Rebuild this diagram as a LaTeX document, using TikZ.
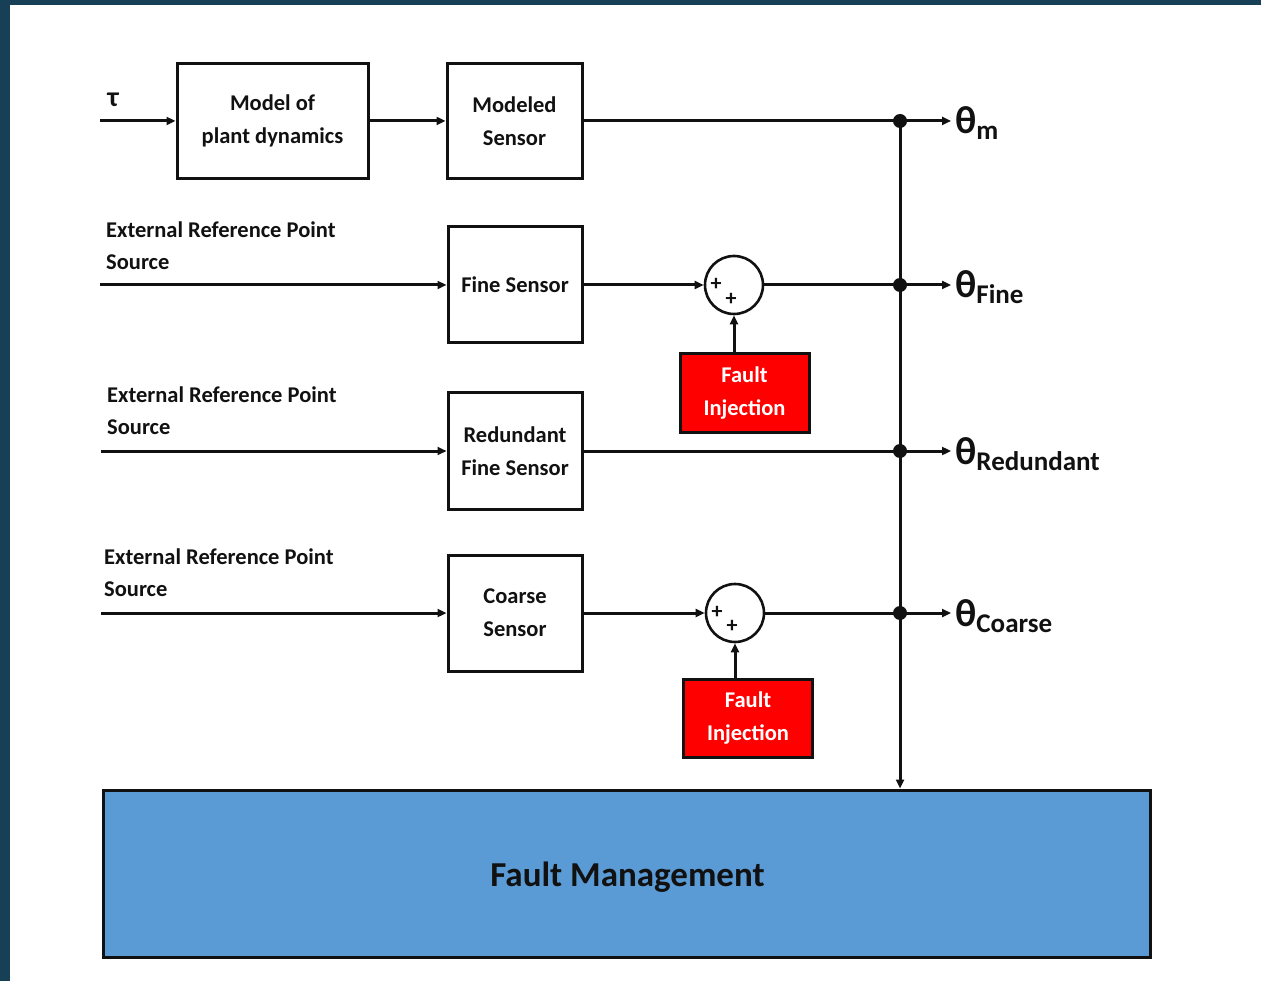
\documentclass[tikz,border=0pt]{standalone}
\usepackage{fontspec}
\setmainfont{Carlito}
\usetikzlibrary{arrows.meta,calc}
\definecolor{frame}{HTML}{173F55}
\definecolor{ink}{HTML}{111111}
\definecolor{fired}{HTML}{FF0000}
\definecolor{fmblue}{HTML}{5B9BD5}
\tikzset{
  blk/.style={draw=ink, line width=3pt, fill=white, align=center, inner sep=0pt,
              font=\bfseries\fontsize{22.5}{33}\selectfont, text=ink},
  sensbox/.style={blk, minimum width=134pt, minimum height=116pt},
  faultbox/.style={blk, fill=fired, text=white, minimum width=129pt, minimum height=78pt},
  sumnode/.style={draw=ink, line width=2.6pt, circle, minimum size=58pt, inner sep=0pt, fill=white},
  wire/.style={draw=ink, line width=3pt},
  flow/.style={wire, -{Triangle[length=9pt,width=8pt]}},
  dot/.style={circle, fill=ink, minimum size=14pt, inner sep=0pt},
  srclabel/.style={anchor=west, align=left, inner sep=0pt, text=ink,
                   font=\bfseries\fontsize{22.5}{32}\selectfont},
  outlabel/.style={anchor=base west, inner sep=0pt, text=ink, font=\bfseries},
  plus/.style={inner sep=0pt, text=ink, font=\bfseries\fontsize{22}{22}\selectfont}
}
\newcommand{\thetaout}[1]{{\fontsize{39}{39}\selectfont θ}\raisebox{-6pt}{\fontsize{27}{27}\selectfont #1}}
\begin{document}
\begin{tikzpicture}[x=1pt,y=-1pt]
  % page and frame strips
  \fill[white] (0,0) rectangle (1261,981);
  \useasboundingbox (0,0) rectangle (1261,981);
  \fill[frame] (0,0) rectangle (10,981);
  \fill[frame] (0,0) rectangle (1261,5);

  % row 1: model chain
  \coordinate (tauin) at (100,121);
  \node[text=ink, font=\bfseries\fontsize{28}{28}\selectfont] (tau) at (113,100) {τ};
  \node[blk, minimum width=191pt, minimum height=115pt] (model) at (272.5,121) {Model of\\plant dynamics};
  \node[blk, minimum width=135pt, minimum height=115pt] (msens) at (514.5,121) {Modeled\\Sensor};

  % sensor rows
  \node[sensbox] (fine) at (515,285) {Fine Sensor};
  \node[sensbox] (red) at (515,451) {Redundant\\Fine Sensor};
  \node[sensbox] (coarse) at (515,613) {Coarse\\Sensor};

  \coordinate (in1) at (100,285);
  \coordinate (in2) at (101,451);
  \coordinate (in3) at (101,613);
  \node[srclabel] (lab1) at (106,246) {External Reference Point\\Source};
  \node[srclabel] (lab2) at (107,411) {External Reference Point\\Source};
  \node[srclabel] (lab3) at (104,573) {External Reference Point\\Source};

  % summing junctions and fault injection
  \node[sumnode] (sum1) at (734,285) {};
  \node[sumnode] (sum2) at (735,613) {};
  \node[plus] (p1a) at ($(sum1)+(-18,-1)$) {+};
  \node[plus] (p1b) at ($(sum1)+(-3,14)$) {+};
  \node[plus] (p2a) at ($(sum2)+(-18,-1)$) {+};
  \node[plus] (p2b) at ($(sum2)+(-3,13)$) {+};
  \node[faultbox] (fi1) at (744.5,393) {Fault\\Injection};
  \node[faultbox] (fi2) at (748,718.5) {Fault\\Injection};

  % fault management
  \node[draw=ink, line width=3pt, fill=fmblue, minimum width=1047pt, minimum height=167pt,
        inner sep=0pt] (fm) at (626.5,873.5) {};
  \node[inner sep=0pt, text=ink, font=\bfseries\fontsize{35}{35}\selectfont] (fmtext)
        at ($(fm.center)+(1,4)$) {Fault Management};

  % junction dots on the collecting bus
  \node[dot] (j1) at (900,121) {};
  \node[dot] (j2) at (900,285) {};
  \node[dot] (j3) at (900,451) {};
  \node[dot] (j4) at (900,613) {};
  \coordinate (o1) at (951,121);
  \coordinate (o2) at (951,285);
  \coordinate (o3) at (951,451);
  \coordinate (o4) at (951,613);

  % connectors
  \draw[flow] (tauin) -- (model.west);
  \draw[flow] (model.east) -- (msens.west);
  \draw[wire] (msens.east) -- (j1.center);
  \draw[flow] (in1) -- (fine.west);
  \draw[flow] (fine.east) -- (sum1.west);
  \draw[wire] (sum1.east) -- (j2.center);
  \draw[flow] (sum1 |- fi1.north) -- (sum1.south);
  \draw[flow] (in2) -- (red.west);
  \draw[wire] (red.east) -- (j3.center);
  \draw[flow] (in3) -- (coarse.west);
  \draw[flow] (coarse.east) -- (sum2.west);
  \draw[wire] (sum2.east) -- (j4.center);
  \draw[flow] (sum2 |- fi2.north) -- (sum2.south);
  \draw[flow] (j1.center) -- (j1 |- fm.north);
  \draw[flow] (j1.center) -- (o1);
  \draw[flow] (j2.center) -- (o2);
  \draw[flow] (j3.center) -- (o3);
  \draw[flow] (j4.center) -- (o4);

  % output labels
  \node[outlabel] (t1) at (955,134) {\thetaout{m}};
  \node[outlabel] (t2) at (955,298) {\thetaout{Fine}};
  \node[outlabel] (t3) at (955,464) {\thetaout{Redundant}};
  \node[outlabel] (t4) at (955,626) {\thetaout{Coarse}};
\end{tikzpicture}
\end{document}
